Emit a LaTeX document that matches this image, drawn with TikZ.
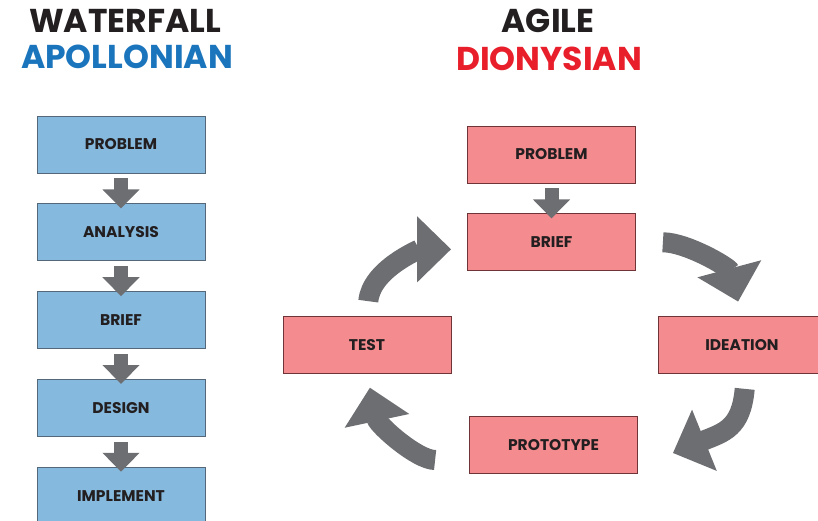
\documentclass[tikz,border=0pt]{standalone}
\usepackage{fontspec}
\setmainfont{Poppins}
\usepackage{tikz}
\usetikzlibrary{arrows.meta, positioning}

\definecolor{wfblue}{RGB}{133,185,222}
\definecolor{wfedge}{RGB}{84,104,122}
\definecolor{agpink}{RGB}{244,139,143}
\definecolor{agedge}{RGB}{110,52,56}
\definecolor{arrowgrey}{RGB}{109,110,113}
\definecolor{titleblue}{RGB}{27,117,188}
\definecolor{titlered}{RGB}{232,30,42}
\definecolor{inkblack}{RGB}{35,31,32}

\begin{document}
\begin{tikzpicture}[
  node distance = 30pt,
  wfbox/.style  = {rectangle, draw=wfedge, line width=0.8pt, fill=wfblue,
                   minimum width=168pt, minimum height=57pt,
                   font=\fontsize{15.5}{18}\selectfont\bfseries, text=inkblack},
  agbox/.style  = {wfbox, draw=agedge, fill=agpink},
  heading/.style = {font=\fontsize{33}{36}\selectfont\bfseries},
  stepdown/.style = {-{Triangle[length=19pt, width=36pt]}, line width=14pt,
                   color=arrowgrey, shorten <=5pt, shorten >=-5pt},
  roundarrow/.style = {-{Triangle[length=34pt, width=64pt]}, line width=20pt,
                   color=arrowgrey},
]
  \useasboundingbox (0,0) rectangle (818pt,-520pt);

  % titles
  \node[heading, text=inkblack]  (wftitle) at (125pt,-21pt) {WATERFALL};
  \node[heading, text=titleblue] (wfsub)   at (127pt,-57pt) {APOLLONIAN};
  \node[heading, text=inkblack]  (agtitle) at (548pt,-21pt) {AGILE};
  \node[heading, text=titlered]  (agsub)   at (549pt,-59pt) {DIONYSIAN};

  % waterfall column
  \node[wfbox] (wprob) at (121pt,-144.5pt) {PROBLEM};
  \node[wfbox, below=of wprob]  (wana)  {ANALYSIS};
  \node[wfbox, below=of wana]   (wbrief) {BRIEF};
  \node[wfbox, below=of wbrief] (wdes)  {DESIGN};
  \node[wfbox, below=of wdes]   (wimp)  {IMPLEMENT};

  \draw[stepdown] (wprob.south)  -- (wana.north);
  \draw[stepdown] (wana.south)   -- (wbrief.north);
  \draw[stepdown] (wbrief.south) -- (wdes.north);
  \draw[stepdown] (wdes.south)   -- (wimp.north);

  % agile cycle
  \node[agbox] (aprob) at (551.5pt,-154.5pt) {PROBLEM};
  \node[agbox, below=of aprob] (abrief) {BRIEF};
  \node[agbox] (atest)  at (367pt,-345pt)   {TEST};
  \node[agbox] (aidea)  at (742pt,-345pt)   {IDEATION};
  \node[agbox] (aproto) at (553.5pt,-445pt) {PROTOTYPE};

  \draw[stepdown] (aprob.south) -- (abrief.north);

  \draw[roundarrow, shorten <=15pt, shorten >=16pt]
    (atest.north) to[out=85, in=180] ([yshift=-7pt]abrief.west);
  \draw[roundarrow, shorten <=27pt, shorten >=15pt]
    (abrief.east) to[out=0, in=105] (aidea.north);
  \draw[roundarrow, shorten <=15pt]
    ([xshift=4pt]aidea.south) to[out=-95, in=22, looseness=1.3]
    ([xshift=35pt,yshift=-8pt]aproto.east);
  \draw[roundarrow, shorten <=34pt, shorten >=14pt]
    ([yshift=-15pt]aproto.west) to[out=180, in=-78] (atest.south);
\end{tikzpicture}
\end{document}
